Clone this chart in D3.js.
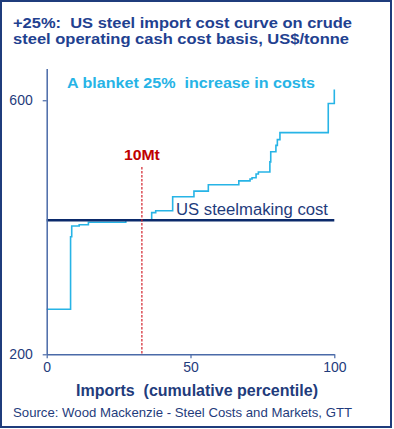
<!DOCTYPE html>
<html>
<head>
<meta charset="utf-8">
<script src="https://cdn.jsdelivr.net/npm/d3@7"></script>
<style>
  html, body { margin: 0; padding: 0; background: #fff; }
  svg text { font-family: Arial, "Liberation Sans", sans-serif; white-space: pre; }
</style>
</head>
<body>
<svg id="chart" width="394" height="429"></svg>
<script>
// ---- data ----
const titleLines = ["+25%:  US steel import cost curve on crude", "steel operating cash cost basis, US$/tonne"];
const importPercentile = [0, 8.3, 8.7, 11.3, 14.5, 27.5, 36.5, 37.9, 43.8, 51.2, 56.2, 66.8, 70.7, 71.4, 72.8, 73.6, 77.6, 77.9, 79.7, 80.2, 81.1, 97.9, 100];
const costWith25 = [271, 385, 402, 404, 408, 411, 423, 426, 448, 457, 467, 473, 476, 478, 484, 487, 503, 519, 529, 538, 549, 595, 617];
const usSteelmakingCost = 411;
const marker10Mt = 33.1;
const xTicks = [0, 50, 100];
const yTicks = [200, 600];
const xDomain = [0, 100];
const yDomain = [200, 650];

const svg = d3.select("#chart");
const navy = "#1f3c7c";

// frame
svg.append("rect").attr("x", 1).attr("y", 1).attr("width", 390).attr("height", 426)
  .attr("fill", "none").attr("stroke", "#1f3c7c").attr("stroke-width", 2);

// title
const titleWidths = [339, 336];
titleLines.forEach((t, i) => {
  svg.append("text").attr("x", 13).attr("y", 27.5 + i * 16.2).attr("fill", "#1f4190")
    .attr("font-size", 15.5).attr("font-weight", "bold")
    .attr("textLength", titleWidths[i]).attr("lengthAdjust", "spacingAndGlyphs").text(t);
});

const x = d3.scaleLinear().domain(xDomain).range([46.7, 334.3]);
const y = d3.scaleLinear().domain(yDomain).range([354.3, 68.5]);

// curve
const data = importPercentile.map((p, i) => ({ p, v: costWith25[i] }));
const line = d3.line().x(d => x(d.p)).y(d => y(d.v)).curve(d3.curveStepAfter);
svg.append("path").datum(data).attr("d", line)
  .attr("fill", "none").attr("stroke", "#27b4e6").attr("stroke-width", 1.6);

// US steelmaking cost line
svg.append("line").attr("x1", x(0)).attr("x2", x(100))
  .attr("y1", y(usSteelmakingCost)).attr("y2", y(usSteelmakingCost))
  .attr("stroke", "#0b2a6b").attr("stroke-width", 2.6);

// 10Mt marker
svg.append("line").attr("x1", x(marker10Mt)).attr("x2", x(marker10Mt))
  .attr("y1", 167).attr("y2", y(200))
  .attr("stroke", "#d2202a").attr("stroke-width", 1.2).attr("stroke-dasharray", "2.5,1.5");
svg.append("text").attr("x", x(marker10Mt)).attr("y", 160).attr("text-anchor", "middle")
  .attr("fill", "#c00000").attr("font-size", 15).attr("font-weight", "bold")
  .attr("textLength", 36).attr("lengthAdjust", "spacingAndGlyphs").text("10Mt");

// axes
const xAxis = svg.append("g").attr("transform", `translate(0,${y(200)})`)
  .call(d3.axisBottom(x).tickValues(xTicks).tickSize(4).tickSizeOuter(0).tickPadding(4).tickFormat(d3.format("d")));
const yAxis = svg.append("g").attr("transform", `translate(${x(0)},0)`)
  .call(d3.axisLeft(y).tickValues(yTicks).tickSize(4).tickSizeOuter(0).tickPadding(10).tickFormat(d3.format("d")));
[xAxis, yAxis].forEach(g => {
  g.select(".domain").attr("stroke", "#4a6aa8").attr("stroke-width", 1.5);
  g.selectAll(".tick line").attr("stroke", "#4a6aa8").attr("stroke-width", 1.2);
  g.selectAll(".tick text").attr("fill", navy).attr("font-size", 14)
    .attr("font-family", "Arial, 'Liberation Sans', sans-serif");
});

// annotations
svg.append("text").attr("x", 67).attr("y", 88).attr("fill", "#27b4e6")
  .attr("font-size", 15.5).attr("font-weight", "bold")
  .attr("textLength", 248).attr("lengthAdjust", "spacingAndGlyphs").text("A blanket 25%  increase in costs");
svg.append("text").attr("x", 176).attr("y", 214.5).attr("fill", navy)
  .attr("font-size", 16)
  .attr("textLength", 152).attr("lengthAdjust", "spacingAndGlyphs").text("US steelmaking cost");

// x axis title
svg.append("text").attr("x", 76).attr("y", 395.5).attr("fill", navy)
  .attr("font-size", 16).attr("font-weight", "bold")
  .attr("textLength", 242).attr("lengthAdjust", "spacingAndGlyphs").text("Imports  (cumulative percentile)");

// source
svg.append("text").attr("x", 13).attr("y", 417).attr("fill", navy)
  .attr("font-size", 13)
  .attr("textLength", 339).attr("lengthAdjust", "spacingAndGlyphs").text("Source: Wood Mackenzie - Steel Costs and Markets, GTT");
</script>
</body>
</html>
